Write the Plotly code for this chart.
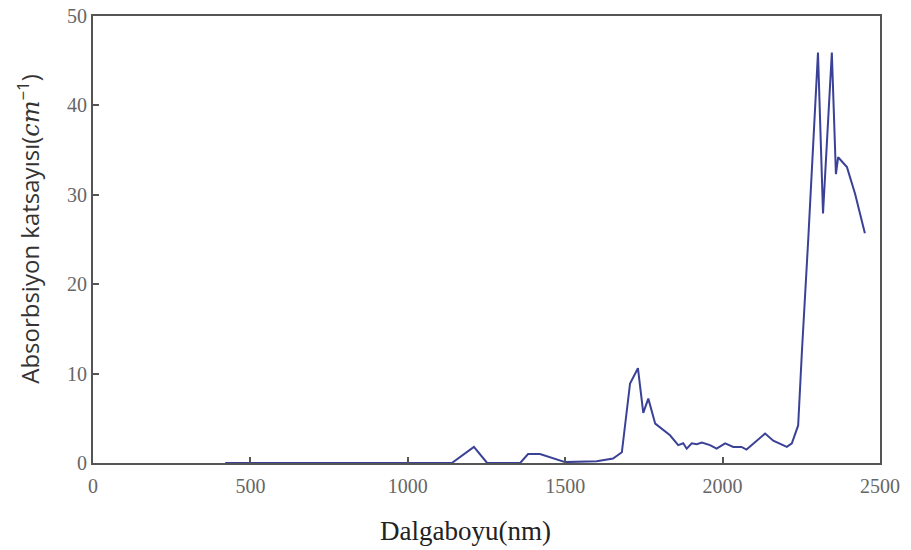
import plotly.graph_objects as go

wavelength = [420, 1140, 1210, 1252, 1357, 1382, 1420, 1500, 1600, 1652, 1680, 1706, 1731, 1748, 1764,
              1786, 1833, 1859, 1875, 1886, 1902, 1918, 1934, 1960, 1981, 2008, 2034, 2060, 2076,
              2108, 2135, 2161, 2204, 2220, 2240, 2252, 2272, 2303, 2319, 2347, 2360, 2367, 2395,
              2421, 2452]
absorption = [0, 0, 1.8, 0, 0, 1.0, 1.0, 0.1, 0.2, 0.5, 1.2, 8.9, 10.6, 5.6, 7.2,
              4.4, 3.1, 2.0, 2.2, 1.6, 2.2, 2.1, 2.3, 2.0, 1.6, 2.2, 1.8, 1.8, 1.5,
              2.5, 3.3, 2.5, 1.8, 2.2, 4.2, 12.5, 25.0, 45.9, 27.9, 45.9, 32.3, 34.2, 33.1,
              30.1, 25.7]

x_ticks = [0, 500, 1000, 1500, 2000, 2500]
y_ticks = [0, 10, 20, 30, 40, 50]

fig = go.Figure()
fig.add_trace(go.Scatter(x=wavelength, y=absorption, mode="lines",
                         line=dict(color="#3b4196", width=2)))

axis_common = dict(showgrid=False, zeroline=False, showline=True, mirror=True,
                   automargin=False, ticklabeloverflow="allow",
                   linecolor="#555555", linewidth=2, ticks="inside", ticklen=6,
                   tickcolor="#555555", tickwidth=1.5,
                   tickfont=dict(family="Liberation Serif", size=20, color="#666666"))

fig.update_layout(
    width=911, height=550,
    margin=dict(l=85, r=39, t=8, b=95),
    paper_bgcolor="white", plot_bgcolor="white",
    showlegend=False,
    xaxis=dict(range=[0, 2500], tickvals=x_ticks, ticklabelstandoff=4, **axis_common),
    yaxis=dict(range=[0, 50], tickvals=y_ticks, **axis_common),
    annotations=[
        dict(text="Dalgaboyu(nm)", xref="paper", yref="paper", x=0.4727, y=-0.152,
             xanchor="center", yanchor="middle", showarrow=False,
             font=dict(family="Liberation Serif", size=27, color="#222222")),
        dict(text="Absorbsiyon katsayısı(<span style='font-family:DejaVu Serif;font-style:italic'>cm</span><sup>−1</sup>)",
             xref="paper", yref="paper", x=-0.082, y=0.525, textangle=-90,
             xanchor="center", yanchor="middle", showarrow=False,
             font=dict(family="Open Sans", size=24, color="#333333")),
    ],
)

fig.write_html("out.html")
